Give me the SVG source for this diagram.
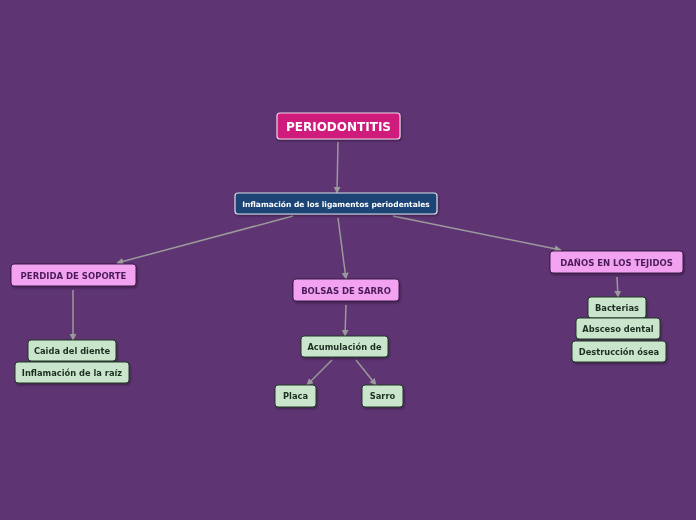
<svg xmlns="http://www.w3.org/2000/svg" width="696" height="520" viewBox="0 0 696 520">
<defs>
<marker id="arr" viewBox="0 0 10 10" refX="9" refY="5" markerWidth="7" markerHeight="7" markerUnits="userSpaceOnUse" orient="auto">
<path d="M0,0 L10,5 L0,10 z" fill="#9a9a9a"/>
</marker>
<filter id="sh" x="-10%" y="-20%" width="130%" height="160%">
<feDropShadow dx="1" dy="1.5" stdDeviation="1" flood-color="#000" flood-opacity="0.35"/>
</filter>
</defs>
<style>
text{font-family:"DejaVu Sans","Liberation Sans",sans-serif;font-weight:bold;text-anchor:middle;dominant-baseline:central}
.root rect{fill:#cf1b7b;stroke:#f2d2e6;stroke-width:1.2}
.root text{fill:#fff;font-size:12px}
.main rect{fill:#1d4576;stroke:#d8dce8;stroke-width:1.2}
.main text{fill:#fff;font-size:7.5px}
.pink rect{fill:#f3a2f2;stroke:#3a1d44;stroke-width:1}
.pink text{fill:#4a1d57;font-size:8.5px}
.green rect{fill:#c9e6cc;stroke:#1f3626;stroke-width:1}
.green text{fill:#1e2e22;font-size:8.3px}
.conn line{stroke:#9a9a9a;stroke-width:1.5;marker-end:url(#arr)}
</style>
<rect width="696" height="520" fill="#5e3473"/>
<g class="conn">
<line x1="338" y1="142" x2="337" y2="193"/>
<line x1="293" y1="216" x2="117" y2="263"/>
<line x1="338" y1="218" x2="346" y2="279"/>
<line x1="393" y1="216" x2="561" y2="250"/>
<line x1="73" y1="290" x2="73" y2="340"/>
<line x1="346" y1="305" x2="345" y2="336"/>
<line x1="332" y1="360" x2="307" y2="385"/>
<line x1="356" y1="360" x2="376" y2="385"/>
<line x1="617" y1="277" x2="618" y2="297"/>
</g>
<g id="root" class="root" filter="url(#sh)"><rect x="277" y="113" width="123" height="26" rx="3"/><text x="338.5" y="126.5">PERIODONTITIS</text></g>
<g id="inflamacion" class="main" filter="url(#sh)"><rect x="235" y="193" width="202" height="21" rx="3"/><text x="336" y="204">Inflamación de los ligamentos periodentales</text></g>
<g id="perdida" class="pink" filter="url(#sh)"><rect x="11" y="264" width="125" height="22" rx="3"/><text x="73.5" y="275.5">PERDIDA DE SOPORTE</text></g>
<g id="bolsas" class="pink" filter="url(#sh)"><rect x="293" y="279" width="106" height="22" rx="3"/><text x="346" y="290.5">BOLSAS DE SARRO</text></g>
<g id="danos" class="pink" filter="url(#sh)"><rect x="550" y="251" width="133" height="22" rx="3"/><text x="616.5" y="262.5">DAÑOS EN LOS TEJIDOS</text></g>
<g id="caida" class="green" filter="url(#sh)"><rect x="28" y="340" width="88" height="21" rx="3"/><text x="72" y="350.5">Caida del diente</text></g>
<g id="raiz" class="green" filter="url(#sh)"><rect x="15" y="362" width="114" height="21" rx="3"/><text x="72" y="372.5">Inflamación de la raíz</text></g>
<g id="acumulacion" class="green" filter="url(#sh)"><rect x="301" y="336" width="87" height="21" rx="3"/><text x="344.5" y="346.5">Acumulación de</text></g>
<g id="placa" class="green" filter="url(#sh)"><rect x="275" y="385" width="41" height="22" rx="3"/><text x="295.5" y="396">Placa</text></g>
<g id="sarro" class="green" filter="url(#sh)"><rect x="362" y="385" width="41" height="22" rx="3"/><text x="382.5" y="396">Sarro</text></g>
<g id="bacterias" class="green" filter="url(#sh)"><rect x="588" y="297" width="58" height="21" rx="3"/><text x="617" y="307.5">Bacterias</text></g>
<g id="absceso" class="green" filter="url(#sh)"><rect x="576" y="318" width="84" height="21" rx="3"/><text x="618" y="328.5">Absceso dental</text></g>
<g id="destruccion" class="green" filter="url(#sh)"><rect x="572" y="341" width="94" height="21" rx="3"/><text x="619" y="351.5">Destrucción ósea</text></g>
</svg>
